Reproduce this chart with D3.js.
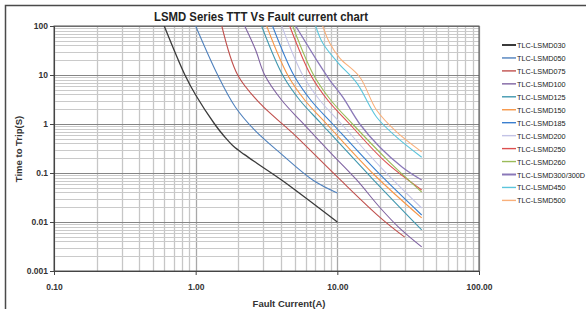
<!DOCTYPE html>
<html><head><meta charset="utf-8">
<script src="https://cdn.jsdelivr.net/npm/d3@7"></script>
<style>body{margin:0;background:#fff;} svg{display:block;font-family:"Liberation Sans",Arial,sans-serif;}</style>
</head><body><svg id="c" width="586" height="309"></svg>
<script>
// ---- data: [fault current (A), time to trip (s)] ----
const seriesNames = ["TLC-LSMD030","TLC-LSMD050","TLC-LSMD075","TLC-LSMD100","TLC-LSMD125","TLC-LSMD150","TLC-LSMD185","TLC-LSMD200","TLC-LSMD250","TLC-LSMD260","TLC-LSMD300/300D","TLC-LSMD450","TLC-LSMD500"];
const lsmd030 = [[0.60,100],[0.84,10],[1.0,3.9],[1.36,1],[1.6,0.55],[1.85,0.35],[2.2,0.24],[2.69,0.16],[4.04,0.072],[10,0.01]];
const lsmd050 = [[1.0,100],[1.43,10],[1.91,2.2],[2.61,0.75],[3.92,0.26],[6.7,0.072],[10,0.039]];
const lsmd075 = [[1.53,100],[1.98,10],[2.87,2.56],[4.84,0.65],[10,0.083],[19.9,0.0126],[29.9,0.0049]];
const lsmd100 = [[2.22,100],[2.65,32.4],[3.07,10],[4.04,3.09],[5.6,1.1],[8.83,0.27],[13.7,0.072],[19.9,0.020],[27.5,0.0075],[39.4,0.0031]];
const lsmd125 = [[2.92,100],[4.11,10],[5.42,3.09],[7.75,1],[17.5,0.079],[39.4,0.0069]];
const lsmd150 = [[3.17,100],[4.46,10],[5.88,3.09],[8.41,1],[18.3,0.091],[39.4,0.0121]];
const lsmd185 = [[3.49,100],[4.92,10],[6.48,3.09],[9.27,1],[19.2,0.105],[39.4,0.0139]];
const lsmd200 = [[4.05,100],[5.69,10],[7.5,3.09],[10.7,1],[20.5,0.126],[39.4,0.0193]];
const lsmd250 = [[4.61,100],[6.48,10],[8.54,3.09],[12.2,1],[21.9,0.168],[39.4,0.045]];
const lsmd260 = [[4.84,100],[6.8,10],[8.97,3.09],[12.8,1],[22.6,0.184],[39.4,0.041]];
const lsmd300 = [[5.08,100],[7.14,20.2],[8.83,7.9],[10.9,3.56],[14.4,1],[19.9,0.34],[28.9,0.13],[39.4,0.072]];
const lsmd450 = [[7.03,100],[7.88,45],[10,18.4],[13.7,6.9],[18.9,1.39],[26.2,0.54],[39.4,0.21]];
const lsmd500 = [[7.88,100],[8.83,45],[10.4,22.2],[14.4,9.1],[18.9,1.93],[26.2,0.69],[39.4,0.27]];
const seriesData = [lsmd030,lsmd050,lsmd075,lsmd100,lsmd125,lsmd150,lsmd185,lsmd200,lsmd250,lsmd260,lsmd300,lsmd450,lsmd500];

const xTickValues = [0.1,1,10,100];
const xTickLabels = ["0.10","1.00","10.00","100.00"];
const yTickValues = [0.001,0.01,0.1,1,10,100];
const yTickLabels = ["0.001","0.01","0.1","1","10","100"];

// ---- styles ----
const colors = ["#3a3a3a","#4F81BD","#C0504D","#8064A2","#4198AF","#F79646","#3a7fcf","#c3c3e6","#dc4f4f","#9BBB59","#8a78b8","#5cc5dc","#f9b07a"];
const widths = [1.3,1.1,1.1,1.1,1.1,1.1,1.1,1.1,1.1,1.1,1.3,1.1,1.1];

const svg = d3.select("#c");
const L=54, R=479, T=26, B=271;
const x = d3.scaleLog().domain([0.1,100]).range([L,R]);
const y = d3.scaleLog().domain([0.001,100]).range([B,T]);

// outer frame
svg.append("rect").attr("x",5.5).attr("y",5.5).attr("width",640).attr("height",400)
  .attr("fill","none").attr("stroke","#4a4a4a").attr("stroke-width",1.5);

// grid
const xGrid=[], yGrid=[];
for (let e=-1;e<2;e++) for (let k=1;k<10;k++) xGrid.push(k*Math.pow(10,e));
xGrid.push(100);
for (let e=-3;e<2;e++) for (let k=1;k<10;k++) yGrid.push(k*Math.pow(10,e));
yGrid.push(100);
const isMajor = v => Math.abs(Math.log10(v)-Math.round(Math.log10(v)))<1e-9;
const g = svg.append("g");
g.selectAll("line.vx").data(xGrid).enter().append("line")
  .attr("x1",d=>Math.round(x(d))+0.5).attr("x2",d=>Math.round(x(d))+0.5).attr("y1",T).attr("y2",B)
  .attr("stroke",d=>isMajor(d)?"#a8a8a8":"#c6c6c6").attr("stroke-width",1.3);
g.selectAll("line.hy").data(yGrid).enter().append("line")
  .attr("y1",d=>Math.round(y(d))+0.5).attr("y2",d=>Math.round(y(d))+0.5).attr("x1",L).attr("x2",R)
  .attr("stroke",d=>isMajor(d)?"#858585":"#cacaca").attr("stroke-width",d=>isMajor(d)?1.2:1);

// plot border
svg.append("rect").attr("x",L).attr("y",T).attr("width",R-L).attr("height",B-T)
  .attr("fill","none").attr("stroke","#555").attr("stroke-width",1);

// curves
svg.append("clipPath").attr("id","clip").append("rect").attr("x",L).attr("y",T).attr("width",R-L).attr("height",B-T);
const line = d3.line().x(d=>x(d[0])).y(d=>y(d[1])).curve(d3.curveCatmullRom.alpha(0.5));
svg.append("g").attr("clip-path","url(#clip)").selectAll("path").data(seriesData).enter().append("path")
  .attr("d",line).attr("fill","none").attr("stroke",(d,i)=>colors[i]).attr("stroke-width",(d,i)=>widths[i]);

// axes
const yAxis = d3.axisLeft(y).tickValues(yTickValues).tickFormat((d,i)=>yTickLabels[i]).tickSize(4).tickPadding(2);
const xAxis = d3.axisBottom(x).tickValues(xTickValues).tickFormat((d,i)=>xTickLabels[i]).tickSize(4).tickPadding(9);
const ya = svg.append("g").attr("transform",`translate(${L},0)`).call(yAxis);
const xa = svg.append("g").attr("transform",`translate(0,${B})`).call(xAxis);
[ya,xa].forEach(a=>{
  a.select(".domain").attr("stroke","#444");
  a.selectAll(".tick line").attr("stroke","#444");
  a.selectAll("text").attr("font-size","8.5px").attr("font-weight","bold").attr("fill","#333")
    .attr("font-family","'Liberation Sans',Arial,sans-serif");
});

// title & labels
svg.append("text").attr("x",261).attr("y",21).attr("text-anchor","middle")
  .attr("font-size","12px").attr("font-weight","bold").attr("fill","#222")
  .attr("textLength",214).attr("lengthAdjust","spacingAndGlyphs")
  .text("LSMD Series TTT Vs Fault current chart");
svg.append("text").attr("transform","translate(22,149) rotate(-90)").attr("text-anchor","middle")
  .attr("font-size","9.5px").attr("font-weight","bold").attr("fill","#333")
  .text("Time to Trip(S)");
svg.append("text").attr("x",289).attr("y",307).attr("text-anchor","middle")
  .attr("font-size","9.5px").attr("font-weight","bold").attr("fill","#333")
  .text("Fault Current(A)");

// legend
const lg = svg.append("g");
seriesNames.forEach((n,i)=>{
  const yy = 45 + i*12.95;
  lg.append("line").attr("x1",502).attr("x2",516).attr("y1",yy).attr("y2",yy)
    .attr("stroke",colors[i]).attr("stroke-width",i===0||i===10?2:1.4);
  lg.append("text").attr("x",517).attr("y",yy+3).attr("font-size","7.3px").attr("fill","#222").text(n);
});
</script></body></html>
